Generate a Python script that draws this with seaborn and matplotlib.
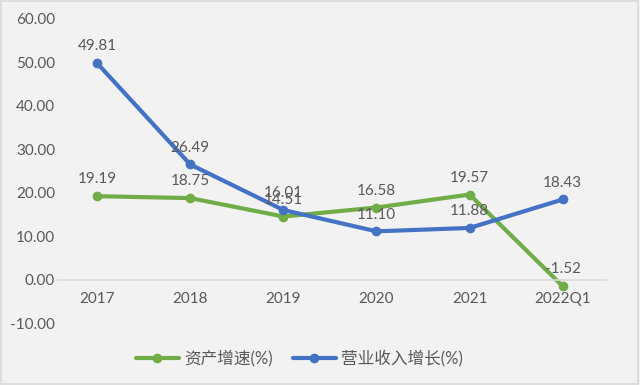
"""Asset growth vs revenue growth line chart, 2017 - 2022Q1."""

import pandas as pd
import matplotlib.pyplot as plt
import seaborn as sns
from matplotlib.patches import Rectangle

years = ['2017', '2018', '2019', '2020', '2021', '2022Q1']
asset_growth = [19.19, 18.75, 14.51, 16.58, 19.57, -1.52]
revenue_growth = [49.81, 26.49, 16.01, 11.10, 11.88, 18.43]
series_names = ['资产增速(%)', '营业收入增长(%)']
y_ticks = [-10, 0, 10, 20, 30, 40, 50, 60]

GREEN = '#70AD47'
BLUE = '#4472C4'
TEXT = '#595959'
BG = '#F2F2F2'

sns.set_style('white')
plt.rcParams['font.family'] = ['Lato', 'Noto Sans CJK SC', 'DejaVu Sans']

df = pd.DataFrame({
    'year': years * 2,
    'value': asset_growth + revenue_growth,
    'series': [series_names[0]] * len(years) + [series_names[1]] * len(years),
})

fig = plt.figure(figsize=(6.4, 3.85), dpi=100, facecolor=BG)
fig.patches.append(Rectangle((0.002, 0.003), 0.995, 0.994, transform=fig.transFigure,
                             fill=False, edgecolor='#D9D9D9', linewidth=1.2))
ax = fig.add_axes([0.0906, 0.161, 0.857, 0.79])
ax.set_facecolor(BG)

sns.lineplot(data=df, x='year', y='value', hue='series',
             palette={series_names[0]: GREEN, series_names[1]: BLUE},
             marker='o', markersize=7, markeredgewidth=0, linewidth=3,
             sort=False, ax=ax)

# data labels above each point
for vals in (asset_growth, revenue_growth):
    for i, v in enumerate(vals):
        ax.annotate(f'{v:.2f}', (i, v), xytext=(0, 7), textcoords='offset points',
                    ha='center', va='bottom', fontsize=11, color=TEXT)

ax.set_ylim(-10, 60)
ax.set_xlim(-0.42, 5.47)
ax.set_yticks(y_ticks)
ax.set_yticklabels([f'{t:.2f}' for t in y_ticks])
ax.tick_params(axis='both', length=0, labelsize=11, labelcolor=TEXT)
ax.tick_params(axis='x', pad=9)
ax.tick_params(axis='y', pad=2)
ax.set_xlabel('')
ax.set_ylabel('')

for side in ('top', 'right', 'left'):
    ax.spines[side].set_visible(False)
ax.spines['bottom'].set_position(('data', 0))
ax.spines['bottom'].set_color('#D9D9D9')
ax.spines['bottom'].set_linewidth(1.2)

handles, labels = ax.get_legend_handles_labels()
ax.legend(handles, labels, loc='center', bbox_to_anchor=(0.44, -0.115), ncol=2,
          frameon=False, fontsize=12, labelcolor=TEXT, handlelength=2.6,
          columnspacing=1.2, handletextpad=0.3)

fig.savefig('out.png', dpi=100, facecolor=BG)
